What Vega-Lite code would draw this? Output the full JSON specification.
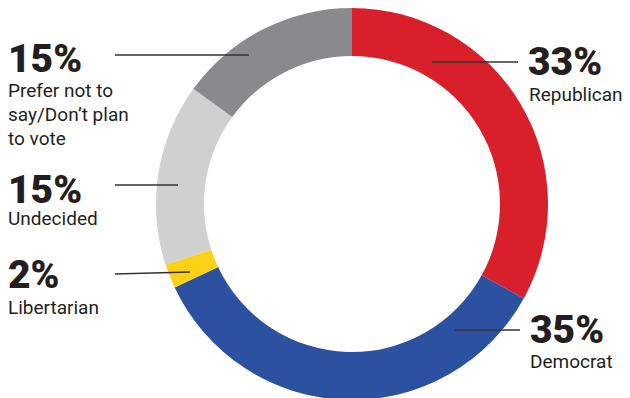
{
  "$schema": "https://vega.github.io/schema/vega-lite/v6.json",
  "width": 556,
  "height": 388,
  "autosize": {"type": "none"},
  "padding": {"left": 74, "top": 10, "right": 0, "bottom": 0},
  "background": "white",
  "config": {"view": {"stroke": null}},
  "datasets": {
    "slices": [
      {"party": "Republican", "pct": 33, "order": 1, "pctLabel": "33%", "name": "Republican", "lx": 176, "ly": 129, "nx": 177, "ny": 103, "rx": 80, "rx2": 166, "ry": 142, "ry2": 142},
      {"party": "Democrat", "pct": 35, "order": 2, "pctLabel": "35%", "name": "Democrat", "lx": 178, "ly": -139, "nx": 178, "ny": -164, "rx": 103, "rx2": 168, "ry": -126, "ry2": -126},
      {"party": "Libertarian", "pct": 2, "order": 3, "pctLabel": "2%", "name": "Libertarian", "lx": -344, "ly": -84, "nx": -344, "ny": -110, "rx": -237, "rx2": -162, "ry": -70, "ry2": -68},
      {"party": "Undecided", "pct": 15, "order": 4, "pctLabel": "15%", "name": "Undecided", "lx": -344, "ly": 1, "nx": -344, "ny": -21, "rx": -237, "rx2": -174, "ry": 19, "ry2": 19},
      {"party": "Prefer not to say/Don't plan to vote", "pct": 15, "order": 5, "pctLabel": "15%", "name": "Prefer not to\nsay/Don’t plan\nto vote", "lx": -344, "ly": 132, "nx": -344, "ny": 107, "rx": -237, "rx2": -103, "ry": 149, "ry2": 149}
    ]
  },
  "data": {"name": "slices"},
  "layer": [
    {
      "mark": {"type": "arc", "outerRadius": 196, "innerRadius": 148, "strokeWidth": 0},
      "encoding": {
        "theta": {"field": "pct", "type": "quantitative", "stack": true},
        "order": {"field": "order", "type": "quantitative"},
        "color": {
          "field": "party",
          "type": "nominal",
          "legend": null,
          "scale": {
            "domain": ["Republican", "Democrat", "Libertarian", "Undecided", "Prefer not to say/Don't plan to vote"],
            "range": ["#d9202a", "#2d51a1", "#fcd116", "#d0d0d0", "#898a8c"]
          }
        }
      }
    },
    {
      "mark": {"type": "rule", "color": "#333333", "strokeWidth": 1.5},
      "encoding": {
        "x": {"field": "rx", "type": "quantitative", "scale": {"domain": [-278, 278], "nice": false, "zero": false}, "axis": null},
        "x2": {"field": "rx2"},
        "y": {"field": "ry", "type": "quantitative", "scale": {"domain": [-194, 194], "nice": false, "zero": false}, "axis": null},
        "y2": {"field": "ry2"}
      }
    },
    {
      "mark": {"type": "text", "align": "left", "baseline": "alphabetic", "font": "Roboto", "fontSize": 39, "fontWeight": 900, "color": "#231f20", "letterSpacing": 1.5},
      "encoding": {
        "x": {"field": "lx", "type": "quantitative"},
        "y": {"field": "ly", "type": "quantitative"},
        "text": {"field": "pctLabel"}
      }
    },
    {
      "mark": {"type": "text", "align": "left", "baseline": "alphabetic", "font": "Roboto", "fontSize": 19, "fontWeight": 400, "color": "#231f20", "lineBreak": "\n", "lineHeight": 24, "letterSpacing": 0.6},
      "encoding": {
        "x": {"field": "nx", "type": "quantitative"},
        "y": {"field": "ny", "type": "quantitative"},
        "text": {"field": "name"}
      }
    }
  ]
}
